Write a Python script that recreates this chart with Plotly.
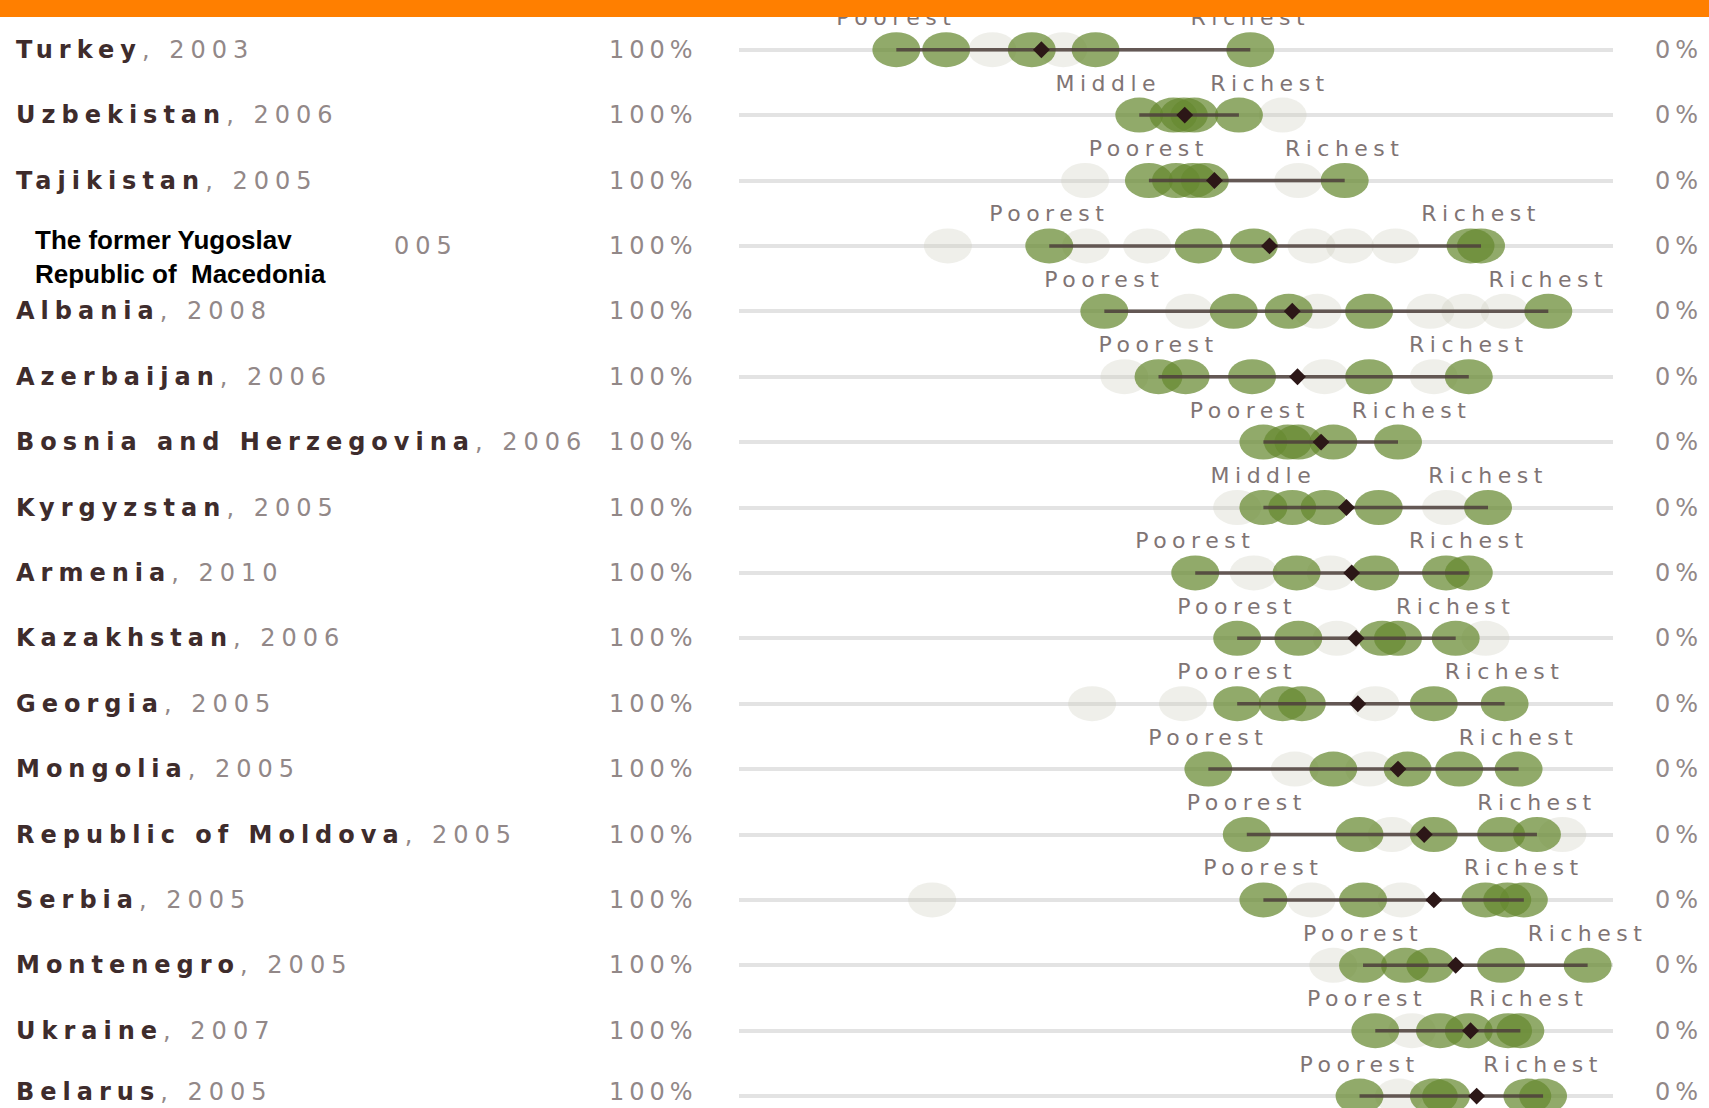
import plotly.graph_objects as go

# ---------------- data ----------------
countries = ["Turkey", "Uzbekistan", "Tajikistan", "The former Yugoslav Republic of Macedonia",
             "Albania", "Azerbaijan", "Bosnia and Herzegovina", "Kyrgyzstan", "Armenia",
             "Kazakhstan", "Georgia", "Mongolia", "Republic of Moldova", "Serbia",
             "Montenegro", "Ukraine", "Belarus"]
years = ["2003", "2006", "2005", "005", "2008", "2006", "2006", "2005", "2010",
         "2006", "2005", "2005", "2005", "2005", "2005", "2007", "2005"]
left_group = ["Poorest", "Middle", "Poorest", "Poorest", "Poorest", "Poorest", "Poorest",
              "Middle", "Poorest", "Poorest", "Poorest", "Poorest", "Poorest", "Poorest",
              "Poorest", "Poorest", "Poorest"]
right_group = ["Richest"] * 17
national_avg = [65.4, 49.0, 45.6, 39.3, 36.7, 36.1, 33.4, 30.5, 29.9,
                29.4, 29.2, 24.6, 21.6, 20.5, 18.0, 16.3, 15.6]
wealth_values = [
    [82.0, 76.3, 66.5, 59.2, 41.5],
    [54.2, 50.3, 49.1, 47.9, 42.8],
    [53.1, 50.0, 48.1, 46.7, 30.7],
    [64.5, 47.4, 41.1, 16.3, 15.1],
    [58.2, 43.4, 37.1, 27.9, 7.4],
    [52.0, 48.9, 41.3, 27.9, 16.5],
    [40.0, 37.2, 36.0, 32.0, 24.6],
    [40.0, 36.7, 33.0, 26.8, 14.3],
    [47.8, 36.2, 27.2, 19.1, 16.5],
    [43.0, 36.0, 26.4, 24.6, 18.0],
    [43.0, 37.8, 35.6, 20.5, 12.4],
    [46.3, 32.0, 23.5, 17.6, 10.8],
    [41.9, 29.0, 20.5, 12.8, 8.7],
    [40.0, 28.6, 14.6, 12.1, 10.2],
    [28.6, 23.8, 20.9, 12.8, 2.9],
    [27.2, 19.8, 16.5, 12.0, 10.6],
    [29.0, 20.5, 19.1, 9.8, 8.0],
]
other_values = [
    [71.0, 62.9],
    [37.8],
    [60.4, 36.0],
    [76.1, 60.3, 53.3, 34.5, 30.1, 24.9],
    [48.5, 33.8, 20.9, 16.9, 12.4],
    [55.9, 33.0, 20.5],
    [],
    [43.0, 19.1],
    [41.1, 32.3],
    [31.6, 14.6],
    [59.6, 49.2, 27.2],
    [36.4, 27.9],
    [25.3, 5.8],
    [77.9, 34.5, 24.2],
    [32.0],
    [23.0],
    [24.5],
]
scale_left_label = "100%"
scale_right_label = "0%"

# ---------------- layout constants ----------------
W, H = 1709, 1108
ML, MR, MT, MB = 739, 96, 17, 0
PW, PH = W - ML - MR, H - MT - MB
ROW_PX = 65.4
n = len(countries)
Y_TOP = -0.5
Y_BOT = Y_TOP + PH / ROW_PX
PX_PER_X = PW / 100.0

RX = 24.0 / PX_PER_X        # ellipse half width in data units
RY = 17.5 / ROW_PX          # ellipse half height in data units
MIN_LABEL_GAP = 18.5        # minimum distance between label centres (data units)

GREEN = "rgba(102,137,48,0.72)"
GREY = "rgba(205,205,190,0.32)"
NAME_COLOR = "#3e2c2c"
YEAR_COLOR = "#928888"
LABEL_COLOR = "#7f7474"
FONT = "DejaVu Sans"


def px_to_paper_x(px):
    return (px - ML) / PW


def spaced(txt, sp):
    return f'<span style="letter-spacing:{sp}px">{txt}</span>'


def row_anchor(i):
    # keep the last row's text box inside the figure
    if i == n - 1:
        return dict(y=Y_BOT, yanchor="bottom")
    return dict(y=i, yanchor="middle")


fig = go.Figure()
shapes = []

# faint ellipses for other groups, then green wealth ellipses
for i in range(n):
    for v in other_values[i]:
        shapes.append(dict(type="circle", xref="x", yref="y", layer="between",
                           x0=v + RX, x1=v - RX, y0=i - RY, y1=i + RY,
                           fillcolor=GREY, line=dict(width=0)))
for i in range(n):
    for v in wealth_values[i]:
        shapes.append(dict(type="circle", xref="x", yref="y", layer="between",
                           x0=v + RX, x1=v - RX, y0=i - RY, y1=i + RY,
                           fillcolor=GREEN, line=dict(width=0)))

# range lines between extremes
lx, ly = [], []
for i in range(n):
    lx += [max(wealth_values[i]), min(wealth_values[i]), None]
    ly += [i, i, None]
fig.add_trace(go.Scatter(x=lx, y=ly, mode="lines",
                         line=dict(color="rgba(78,64,60,0.85)", width=3.5),
                         hoverinfo="skip", showlegend=False))

# national average diamonds
fig.add_trace(go.Scatter(x=national_avg, y=list(range(n)), mode="markers",
                         marker=dict(symbol="diamond", size=13, color="#2c1717"),
                         showlegend=False, hovertemplate="%{x:.1f}%<extra></extra>"))

# group labels (with simple anti-overlap nudge)
tx, ty, tt = [], [], []
for i in range(n):
    hi, lo = max(wealth_values[i]), min(wealth_values[i])
    gap = hi - lo
    push = max(0.0, (MIN_LABEL_GAP - gap) / 2)
    tx += [hi + push, lo - push]
    ty += [i - 0.46, i - 0.46]
    tt += [spaced(left_group[i], 5.5), spaced(right_group[i], 5.5)]
fig.add_trace(go.Scatter(x=tx, y=ty, mode="text", text=tt, textposition="middle center",
                         textfont=dict(family=FONT, size=22, color=LABEL_COLOR),
                         cliponaxis=False, hoverinfo="skip", showlegend=False))

annotations = []
for i in range(n):
    ra = row_anchor(i)
    if i == 3:
        annotations.append(dict(xref="paper", yref="y", x=px_to_paper_x(33), y=i + 0.17,
                                xanchor="left", yanchor="middle", showarrow=False, align="left",
                                text="<b>The former Yugoslav<br>Republic of\u00a0 Macedonia</b>",
                                font=dict(family="Liberation Sans, Arial", size=26, color="#000000")))
        annotations.append(dict(xref="paper", yref="y", x=px_to_paper_x(392), **ra,
                                xanchor="left", showarrow=False,
                                text=spaced(years[i], 6),
                                font=dict(family=FONT, size=24, color=YEAR_COLOR)))
    else:
        txt = spaced(f"<b>{countries[i]}</b><span style=\"color:{YEAR_COLOR}\">, {years[i]}</span>", 6)
        annotations.append(dict(xref="paper", yref="y", x=px_to_paper_x(14), **ra,
                                xanchor="left", showarrow=False,
                                text=txt, font=dict(family=FONT, size=24, color=NAME_COLOR)))
    annotations.append(dict(xref="paper", yref="y", x=px_to_paper_x(700), **ra,
                            xanchor="right", showarrow=False,
                            text=spaced(scale_left_label, 5),
                            font=dict(family=FONT, size=24, color=YEAR_COLOR)))
    annotations.append(dict(xref="paper", yref="y", x=px_to_paper_x(1653), **ra,
                            xanchor="left", showarrow=False,
                            text=spaced(scale_right_label, 5),
                            font=dict(family=FONT, size=24, color=YEAR_COLOR)))

# orange header band
shapes.append(dict(type="rect", xref="paper", yref="paper", layer="above",
                   x0=-ML / PW, x1=1 + MR / PW, y0=1, y1=1 + MT / PH + 0.01,
                   fillcolor="#ff7f00", line=dict(width=0)))

fig.update_layout(
    width=W, height=H,
    margin=dict(l=ML, r=MR, t=MT, b=MB, pad=0),
    paper_bgcolor="white", plot_bgcolor="white",
    shapes=shapes, annotations=annotations,
    xaxis=dict(range=[100, 0], visible=False, fixedrange=True),
    yaxis=dict(range=[Y_BOT, Y_TOP], tickvals=list(range(n)), showticklabels=False,
               showgrid=True, gridcolor="#e3e3e3", gridwidth=4, zeroline=False,
               showline=False, ticks="", fixedrange=True),
    font=dict(family=FONT),
    showlegend=False,
)

fig.write_html("out.html", config={"displayModeBar": False},
               post_script="document.body.style.margin='0';")
